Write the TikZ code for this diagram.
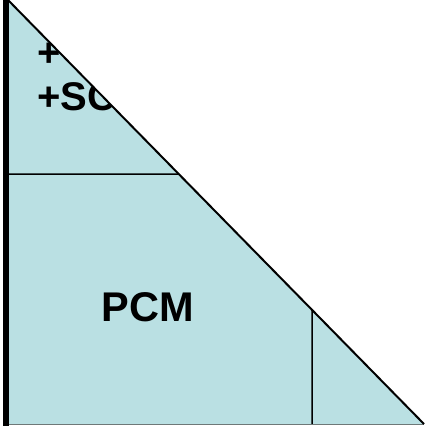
\documentclass[tikz,border=0pt]{standalone}
\usepackage{fontspec}
\setmainfont{Liberation Sans}
\usetikzlibrary{calc}
\definecolor{panel}{RGB}{186,224,227}
\definecolor{rim}{RGB}{110,120,120}
\tikzset{
  lbl/.style={font=\fontsize{40}{40}\selectfont\bfseries, inner sep=0pt, text=black},
  divider/.style={draw=black, line width=1.5pt},
}
\begin{document}
\begin{tikzpicture}[x=1pt,y=-1pt]
\useasboundingbox (0,0) rectangle (424,426);
\coordinate (apex) at (8,0);
\coordinate (bl) at (8,424);
\coordinate (br) at (424,424);
\fill[panel] (apex) -- (bl) -- (br) -- cycle;
\begin{scope}
  \clip (apex) -- (bl) -- (br) -- cycle;
  \node[lbl, anchor=base west] (l1) at (37,66) {+};
  \node[lbl, anchor=base west] (l2) at (37,110.5) {+SC};
\end{scope}
\node[lbl, font=\fontsize{41.5}{41.5}\selectfont\bfseries, anchor=base] (pcm) at (147.5,321.7) {PCM};
\coordinate (hl) at (8,174);
\coordinate (hr) at ($(apex)!0.4104!(br)$);
\coordinate (vt) at ($(apex)!0.7308!(br)$);
\coordinate (vb) at (312,424);
\draw[divider] (hl) -- (hr);
\draw[divider] (vt) -- (vb);
\draw[rim, line width=1pt] (bl) -- (br);
\draw[black, line width=2pt] (apex) -- (br);
\coordinate (lt) at (6,0);
\coordinate (lb) at (6,426);
\draw[black, line width=5.5pt] (lt) -- (lb);
\end{tikzpicture}
\end{document}
